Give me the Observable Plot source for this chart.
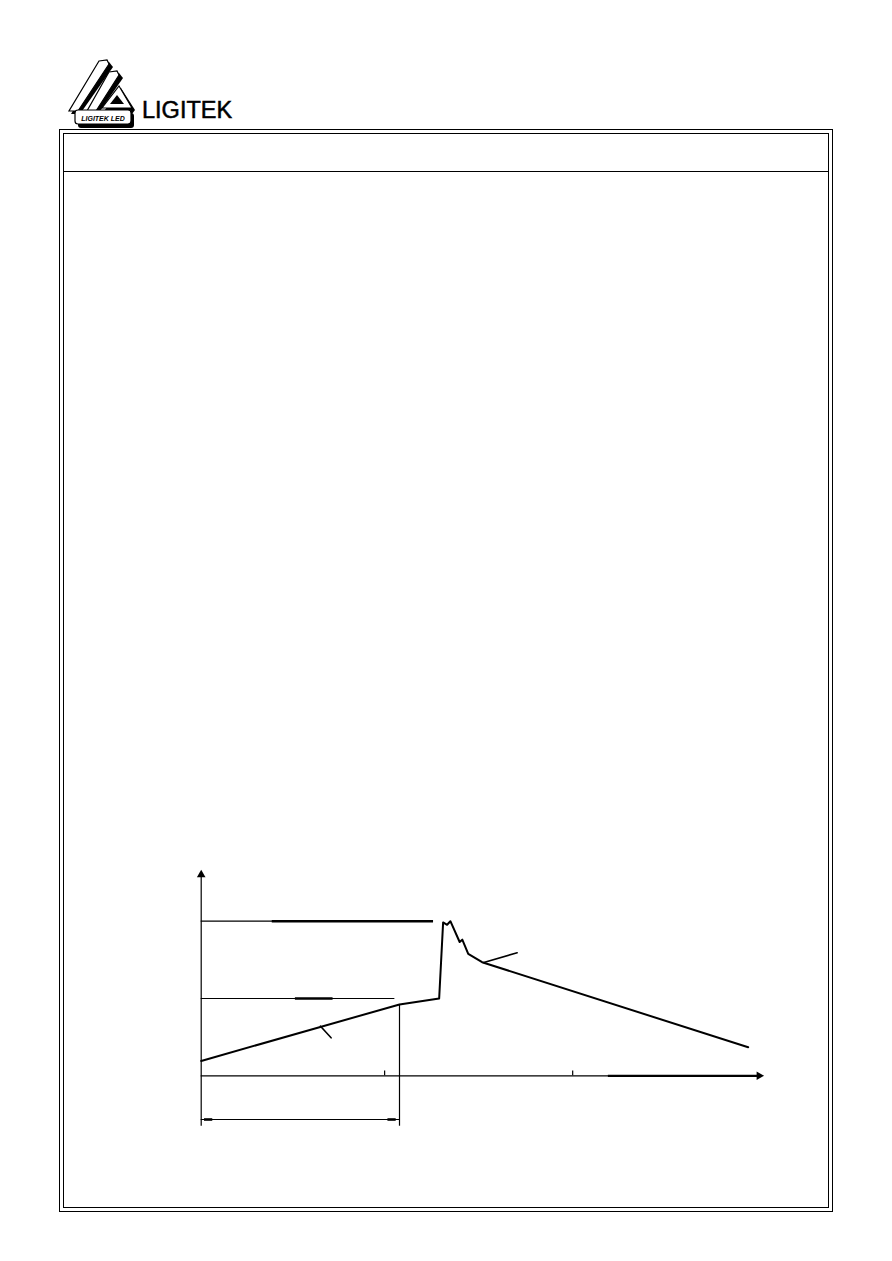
<!DOCTYPE html>
<html>
<head>
<meta charset="utf-8">
<script src="https://cdn.jsdelivr.net/npm/d3@7"></script>
<script src="https://cdn.jsdelivr.net/npm/@observablehq/plot@0.6"></script>
<style>
  html, body { margin: 0; padding: 0; background: #fff; }
  #page { position: relative; width: 892px; height: 1261px; overflow: hidden; font-family: "Liberation Sans", Arial, sans-serif; }
  .box { position: absolute; border: 1.5px solid #000; box-sizing: border-box; }
  .hline { position: absolute; height: 0; border-top: 1.5px solid #000; }
  #brand { position: absolute; left: 142px; top: 99px; font-size: 23.5px; line-height: 1; font-weight: normal; color: #000; -webkit-text-stroke: 0.5px #000; }
  #logo { position: absolute; left: 66px; top: 58px; }
  #chart { position: absolute; left: 0; top: 0; }
</style>
</head>
<body>
<div id="page">
  <svg id="logo" width="72" height="75" viewBox="0 0 72 75">
    <g fill="#000">
      <polygon points="35,6 43,4 47,9 14,56 5,56"/>
      <polygon points="45,17 53,15 57,20 32,56 23,56"/>
      <polygon points="55,30 69,52 66,56 36,56"/>
      <rect x="12" y="55" width="56" height="15" rx="3"/>
    </g>
    <g fill="#fff" stroke="#000" stroke-width="1.2">
      <polygon points="33,3 41,2 43,6 12,53 3,53"/>
      <polygon points="43,14 51,13 53,17 30,53 21,53"/>
      <polygon points="53,28 66,50 36,50"/>
      <rect x="9" y="52" width="56" height="14" rx="3"/>
    </g>
    <polygon points="51,37 58,46 44,46" fill="#000"/>
    <text x="37" y="62.5" text-anchor="middle" font-family="Liberation Sans, Arial, sans-serif" font-size="7" font-weight="bold" font-style="italic" fill="#000">LIGITEK LED</text>
  </svg>
  <div id="brand">LIGITEK</div>
  <div class="box" style="left:59px;top:129px;width:774px;height:1083px;"></div>
  <div class="box" style="left:63px;top:133px;width:766px;height:1075px;"></div>
  <div class="hline" style="left:63px;top:171px;width:766px;"></div>
  <div id="chart"></div>
</div>
<script>
// ---- Data (time in seconds, temperature in °C) ----
const profileTime = [0, 60, 72, 73.2, 74.4, 75.4, 78.2, 79.0, 80.8, 85.0, 165.5];
const profileTemp = [25, 120, 130, 258, 254, 260, 225, 229, 205, 191, 48];

const refLevels = [260, 130];          // reference temperature lines
const refEnds = [70.3, 58.6];          // where each reference line ends (s)
const refBoldStart = [21.5, 28.5];     // emphasised part of each line
const refBoldEnd = [70.3, 39.9];

const xTickTimes = [55.5, 112.4];      // small ticks on the time axis
const preheatEnd = 60;                 // preheat time marker (s)
const preheatTemp = 120;

const leaderA = [{t: 36.1, v: 83.4}, {t: 39.3, v: 63.9}];
const leaderB = [{t: 85.5, v: 190.5}, {t: 95.6, v: 206.9}];

const axisTimeMax = 170;
const axisTempMax = 342;
const axisTempMin = -84.8;
const dimTemp = -73.5;
const axisBoldStart = 123.2;

// ---- Build tables ----
const profile = profileTime.map((t, i) => ({t, v: profileTemp[i]}));
const refs = refLevels.map((v, i) => ({v, end: refEnds[i], b0: refBoldStart[i], b1: refBoldEnd[i]}));
const ticks = xTickTimes.map(t => ({t}));

const chart = Plot.plot({
  width: 892,
  height: 1261,
  margin: 0,
  x: {type: "linear", domain: [0, 170], range: [200.7, 762.55], axis: null},
  y: {type: "linear", domain: [0, 260], range: [1075.3, 920.7], axis: null},
  style: {background: "transparent", overflow: "visible"},
  marks: [
    Plot.ruleX([0], {y1: axisTempMin, y2: axisTempMax - 4, stroke: "#000", strokeWidth: 1.2}),
    Plot.ruleY([0], {x1: 0, x2: axisTimeMax - 1.5, stroke: "#000", strokeWidth: 1.2}),
    Plot.ruleY([0], {x1: axisBoldStart, x2: axisTimeMax - 1.5, stroke: "#000", strokeWidth: 2.2}),
    Plot.dot([{t: 0, v: axisTempMax - 4}], {x: "t", y: "v", symbol: "triangle", r: 3.2, fill: "#000", stroke: null}),
    Plot.dot([{t: axisTimeMax - 1.2, v: 0}], {x: "t", y: "v", symbol: "triangle", r: 3.2, rotate: 90, fill: "#000", stroke: null}),
    Plot.ruleX(ticks, {x: "t", y1: 0, y2: 8, stroke: "#000", strokeWidth: 1.2}),
    Plot.ruleY(refs, {y: "v", x1: 0, x2: "end", stroke: "#000", strokeWidth: 1.2}),
    Plot.ruleY(refs, {y: "v", x1: "b0", x2: "b1", stroke: "#000", strokeWidth: 2.4}),
    Plot.ruleX([preheatEnd], {y1: preheatTemp, y2: axisTempMin, stroke: "#000", strokeWidth: 1.2}),
    Plot.ruleY([dimTemp], {x1: 0, x2: preheatEnd, stroke: "#000", strokeWidth: 1.2}),
    Plot.ruleY([dimTemp], {x1: 1, x2: 3.5, stroke: "#000", strokeWidth: 2.6}),
    Plot.ruleY([dimTemp], {x1: preheatEnd - 3.5, x2: preheatEnd - 1, stroke: "#000", strokeWidth: 2.6}),
    Plot.line(leaderA, {x: "t", y: "v", stroke: "#000", strokeWidth: 1.6}),
    Plot.line(leaderB, {x: "t", y: "v", stroke: "#000", strokeWidth: 1.6}),
    Plot.line(profile, {x: "t", y: "v", stroke: "#000", strokeWidth: 2, curve: "linear"})
  ]
});
document.getElementById("chart").appendChild(chart);
</script>
</body>
</html>
